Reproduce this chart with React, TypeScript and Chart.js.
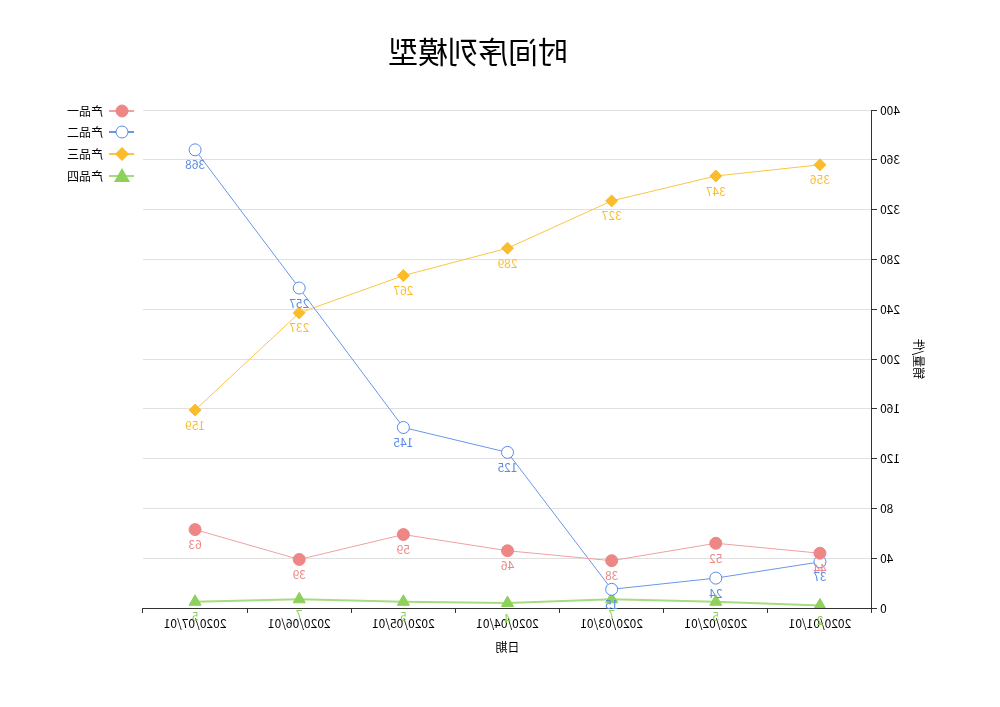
import React, { useEffect, useRef } from "react";
import { Chart, registerables } from "chart.js";

Chart.register(...registerables);

const titleText = "时间序列模型";
const xTitle = "日期";
const yTitle = "销量/件";
const categories = ["2020/01/01", "2020/02/01", "2020/03/01", "2020/04/01", "2020/05/01", "2020/06/01", "2020/07/01"];
const seriesNames = ["产品一", "产品二", "产品三", "产品四"];
const product1 = [44, 52, 38, 46, 59, 39, 63];
const product2 = [37, 24, 15, 125, 145, 257, 368];
const product3 = [356, 347, 327, 289, 267, 237, 159];
const product4 = [2, 5, 7, 4, 5, 7, 5];
const yMin = 0;
const yMax = 400;
const yStep = 40;

const colors = ["#ee8686", "#5b8ae4", "#fbbc2c", "#8dd05a"];
const lineColors = ["#f0a0a0", "#6a96e8", "#fcc545", "#a6dc80"];
const pointStyles = ["circle", "circle", "rectRot", "triangle"];
const pointFills = ["#ee8686", "#ffffff", "#fbbc2c", "#8dd05a"];
const pointRadii = [6, 6, 6, 7];
const lineWidths = [1, 1, 1, 2];

const FONT = '"Noto Sans CJK SC", "Noto Sans", sans-serif';

export default function App() {
  const ref = useRef<HTMLCanvasElement | null>(null);
  useEffect(() => {
    if (!ref.current) return;
    const allData = [product1, product2, product3, product4];
    const labelsPlugin = {
      id: "customDraw",
      afterDatasetsDraw(chart: any) {
        const ctx = chart.ctx;
        ctx.save();
        ctx.font = `12px ${FONT}`;
        ctx.textAlign = "center";
        ctx.textBaseline = "middle";
        chart.data.datasets.forEach((ds: any, i: number) => {
          const meta = chart.getDatasetMeta(i);
          ctx.fillStyle = colors[i];
          meta.data.forEach((pt: any, j: number) => {
            ctx.fillText(String(ds.data[j]), pt.x, pt.y + 15);
          });
        });
        ctx.restore();
      },
      afterDraw(chart: any) {
        const ctx = chart.ctx;
        ctx.save();
        // title
        ctx.fillStyle = "#000";
        ctx.font = `30px ${FONT}`;
        ctx.textAlign = "center";
        ctx.textBaseline = "middle";
        ctx.fillText(titleText, 522, 52);
        // legend
        const rows = [111, 132, 154, 176];
        seriesNames.forEach((name, i) => {
          const y = rows[i];
          ctx.strokeStyle = lineColors[i];
          ctx.lineWidth = 2;
          ctx.beginPath();
          ctx.moveTo(866, y);
          ctx.lineTo(891, y);
          ctx.stroke();
          const cx = 878;
          ctx.fillStyle = pointFills[i];
          ctx.strokeStyle = colors[i];
          ctx.lineWidth = 1;
          if (pointStyles[i] === "circle") {
            ctx.beginPath();
            ctx.arc(cx, y, 6, 0, Math.PI * 2);
            ctx.fill();
            ctx.stroke();
          } else if (pointStyles[i] === "rectRot") {
            ctx.beginPath();
            ctx.moveTo(cx, y - 7);
            ctx.lineTo(cx + 7, y);
            ctx.lineTo(cx, y + 7);
            ctx.lineTo(cx - 7, y);
            ctx.closePath();
            ctx.fill();
          } else {
            ctx.beginPath();
            ctx.moveTo(cx, y - 8);
            ctx.lineTo(cx + 8, y + 6);
            ctx.lineTo(cx - 8, y + 6);
            ctx.closePath();
            ctx.fill();
          }
          ctx.fillStyle = "#000";
          ctx.font = `12px ${FONT}`;
          ctx.textAlign = "left";
          ctx.textBaseline = "middle";
          ctx.fillText(name, 897, y);
        });
        ctx.restore();
      },
    };

    const chart = new Chart(ref.current, {
      type: "line",
      data: {
        labels: categories,
        datasets: seriesNames.map((name, i) => ({
          label: name,
          data: allData[i],
          borderColor: lineColors[i],
          borderWidth: lineWidths[i],
          backgroundColor: pointFills[i],
          pointStyle: pointStyles[i] as any,
          pointRadius: pointRadii[i],
          pointBackgroundColor: pointFills[i],
          pointBorderColor: colors[i],
          pointBorderWidth: 1,
          tension: 0,
          fill: false,
        })),
      },
      options: {
        animation: false,
        responsive: false,
        layout: { padding: { left: 0, right: 143, top: 110, bottom: 0 } },
        plugins: {
          legend: { display: false },
          title: { display: false },
          tooltip: { enabled: false },
        },
        scales: {
          x: {
            offset: true,
            grid: {
              offset: true,
              drawOnChartArea: false,
              drawTicks: true,
              tickLength: 5,
              tickColor: "#333",
            },
            border: { color: "#333", width: 1 },
            ticks: { color: "#000", font: { size: 12, family: FONT }, padding: 3, maxRotation: 0 },
            title: {
              display: true,
              text: xTitle,
              color: "#000",
              font: { size: 12, family: FONT },
              padding: { top: 0, bottom: 52 },
            },
            afterFit(scale: any) {
              scale.height = 99;
            },
          },
          y: {
            min: yMin,
            max: yMax,
            ticks: { stepSize: yStep, color: "#000", font: { size: 12, family: FONT }, padding: 3 },
            grid: { color: "#e0e0e0", tickColor: "#333", tickLength: 5 },
            border: { color: "#333", width: 1 },
            title: {
              display: true,
              text: yTitle,
              color: "#000",
              font: { size: 12, family: FONT },
              padding: { top: 74, bottom: 0 },
            },
            afterFit(scale: any) {
              scale.width = 128;
            },
          },
        },
      },
      plugins: [labelsPlugin],
    });
    return () => chart.destroy();
  }, []);

  return (
    <div style={{ position: "absolute", left: 0, top: 0, width: 1000, height: 707, background: "#fff" }}>
      <canvas
        ref={ref}
        width={1000}
        height={707}
        style={{ width: 1000, height: 707, display: "block", transform: "scaleX(-1)" }}
      />
    </div>
  );
}
